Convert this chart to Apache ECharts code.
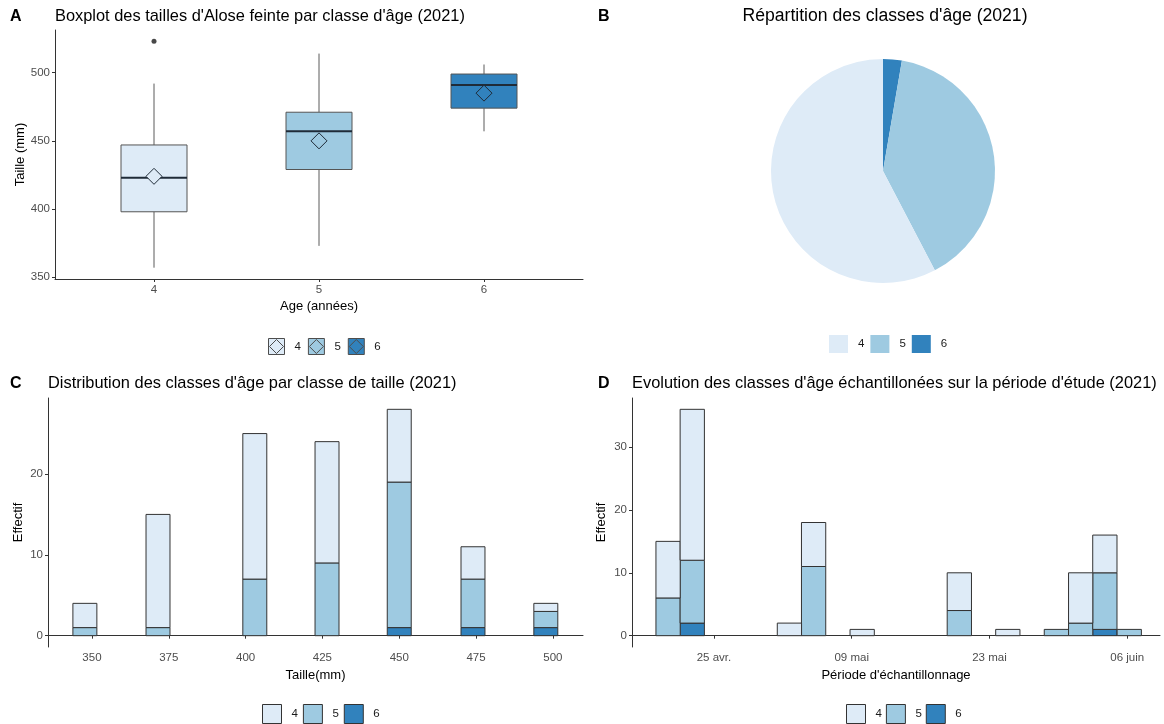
<!DOCTYPE html>
<html>
<head>
<meta charset="utf-8">
<title>Alose feinte 2021</title>
<script src="https://cdn.jsdelivr.net/npm/echarts@6/dist/echarts.min.js"></script>
<style>
  html, body { margin: 0; padding: 0; background: #fff; }
  #chart { width: 1164px; height: 724px; }
</style>
</head>
<body>
<div id="chart"></div>
<script>
// ---- shared ----
const ages = ['4', '5', '6'];
const ageColors = ['#DEEBF7', '#9ECAE1', '#3182BD'];

// ---- A: size per age class (boxplot) ----
const boxPositions = [1, 2, 3];
const boxMin = [357, 373, 457];
const boxQ1 = [398, 429, 474];
const boxMedian = [423, 457, 491];
const boxQ3 = [447, 471, 499];
const boxMax = [492, 514, 506];
const boxMean = [424, 450, 485];
const outlierPos = [1];
const outlierVal = [523];
const tailleTicks = [350, 400, 450, 500];

// ---- B: age class shares ----
const ageTotals = [64, 44, 3];

// ---- C: age classes per size class ----
const sizeClasses = [347.7, 371.5, 403, 426.5, 450, 474, 497.7];
const sizeAge4 = [3, 14, 18, 15, 9, 4, 1];
const sizeAge5 = [1, 1, 7, 9, 18, 6, 2];
const sizeAge6 = [0, 0, 0, 0, 1, 1, 1];
const sizeTicks = [350, 375, 400, 425, 450, 475, 500];
const countTicksC = [0, 10, 20];

// ---- D: age classes over the sampling period (histogram bins) ----
const binCenters = ['2021-04-20 08:00', '2021-04-22 19:00', '2021-05-02 16:00', '2021-05-05 03:00',
  '2021-05-10 01:30', '2021-05-19 22:30', '2021-05-24 20:45', '2021-05-29 19:15',
  '2021-06-01 06:30', '2021-06-03 17:30', '2021-06-06 05:00'];
const binAge4 = [9, 24, 2, 7, 1, 6, 1, 0, 8, 6, 0];
const binAge5 = [6, 10, 0, 11, 0, 4, 0, 1, 2, 9, 1];
const binAge6 = [0, 2, 0, 0, 0, 0, 0, 0, 0, 1, 0];
const dateTicks = ['2021-04-25 00:00', '2021-05-09 00:00', '2021-05-23 00:00', '2021-06-06 00:00'];
const dateTickLabels = ['25 avr.', '09 mai', '23 mai', '06 juin'];
const countTicksD = [0, 10, 20, 30];

// ---- helpers ----
const FONT = 'Liberation Sans, Arial, sans-serif';
const toTime = s => new Date(s.replace(' ', 'T') + ':00').getTime();
const dateTickTimes = dateTicks.map(toTime);

const axisCommon = {
  axisLine: { show: true, lineStyle: { color: '#333', width: 1 } },
  axisTick: { show: true, length: 3, lineStyle: { color: '#333' } },
  axisLabel: { color: '#4d4d4d', fontSize: 11.5, fontFamily: FONT, margin: 5 },
  splitLine: { show: false },
  nameTextStyle: { color: '#000', fontSize: 13, fontFamily: FONT },
  nameLocation: 'middle'
};
function axis(extra) {
  const a = Object.assign({}, axisCommon, extra);
  a.axisLabel = Object.assign({}, axisCommon.axisLabel, extra.axisLabel || {});
  a.axisTick = Object.assign({}, axisCommon.axisTick, extra.axisTick || {});
  return a;
}

// stacked segments [x, bottom, top] for one age class, bottom-up order 6,5,4
function stackRows(xs, layers, k) {
  const rows = [];
  xs.forEach((x, i) => {
    let base = 0;
    for (let j = 0; j < k; j++) base += layers[j][i];
    const v = layers[k][i];
    if (v > 0) rows.push([x, base, base + v]);
  });
  return rows;
}
function segmentRenderer(widthUnits, color) {
  return function (params, api) {
    const x = api.value(0);
    const p0 = api.coord([x, api.value(1)]);
    const p1 = api.coord([x, api.value(2)]);
    const w = api.size([widthUnits, 0])[0];
    return {
      type: 'rect',
      shape: { x: p0[0] - w / 2, y: p1[1], width: w, height: p0[1] - p1[1] },
      style: { fill: color, stroke: '#333', lineWidth: 1 }
    };
  };
}

const sizeBarWidth = 7.8;                 // mm
const binWidth = 59.2 * 3600 * 1000;      // ms

const sizeLayers = [sizeAge6, sizeAge5, sizeAge4];
const binLayers = [binAge6, binAge5, binAge4];
const binTimes = binCenters.map(toTime);

const series = [];

// A: boxes with whiskers
series.push({
  type: 'custom', name: 'boxes', xAxisIndex: 0, yAxisIndex: 0, z: 2,
  data: boxPositions.map((x, i) => [x, boxMin[i], boxQ1[i], boxMedian[i], boxQ3[i], boxMax[i], i]),
  encode: { x: 0, y: [1, 2, 3, 4, 5] },
  renderItem: function (params, api) {
    const x = api.value(0);
    const lo = api.coord([x, api.value(1)]);
    const q1 = api.coord([x, api.value(2)]);
    const md = api.coord([x, api.value(3)]);
    const q3 = api.coord([x, api.value(4)]);
    const hi = api.coord([x, api.value(5)]);
    const half = api.size([0.4, 0])[0] / 2;
    const fill = ageColors[api.value(6)];
    return {
      type: 'group',
      children: [
        { type: 'line', shape: { x1: lo[0], y1: lo[1], x2: q1[0], y2: q1[1] }, style: { stroke: '#5a5a5a', lineWidth: 1 } },
        { type: 'line', shape: { x1: q3[0], y1: q3[1], x2: hi[0], y2: hi[1] }, style: { stroke: '#5a5a5a', lineWidth: 1 } },
        { type: 'rect', shape: { x: q3[0] - half, y: q3[1], width: half * 2, height: q1[1] - q3[1] }, style: { fill: fill, stroke: '#555', lineWidth: 1 } },
        { type: 'line', shape: { x1: md[0] - half, y1: md[1], x2: md[0] + half, y2: md[1] }, style: { stroke: '#1f2b38', lineWidth: 2 } }
      ]
    };
  }
});
// A: outliers
series.push({
  type: 'scatter', name: 'outliers', xAxisIndex: 0, yAxisIndex: 0, z: 3,
  symbol: 'circle', symbolSize: 5,
  itemStyle: { color: '#1a1a1a' },
  data: outlierPos.map((x, i) => [x, outlierVal[i]])
});
// A: means
ages.forEach((a, i) => {
  series.push({
    type: 'scatter', name: 'A-' + a, xAxisIndex: 0, yAxisIndex: 0, z: 4,
    symbol: 'diamond', symbolSize: 16,
    itemStyle: { color: ageColors[i], borderColor: '#1f2b38', borderWidth: 1, opacity: 1 },
    data: [[boxPositions[i], boxMean[i]]]
  });
});

// B: pie
series.push({
  type: 'pie', name: 'shares', center: [883, 171], radius: 112,
  startAngle: 90, clockwise: true,
  label: { show: false }, labelLine: { show: false },
  itemStyle: { borderWidth: 0 },
  data: [2, 1, 0].map(i => ({ name: 'B-' + ages[i], value: ageTotals[i], itemStyle: { color: ageColors[i] } }))
});

// C and D: stacked bars, age 6 at the bottom
[2, 1, 0].forEach((ageIdx, k) => {
  series.push({
    type: 'custom', name: 'C-' + ages[ageIdx], xAxisIndex: 1, yAxisIndex: 1,
    itemStyle: { color: ageColors[ageIdx] },
    data: stackRows(sizeClasses, sizeLayers, k),
    encode: { x: 0, y: [1, 2] },
    renderItem: segmentRenderer(sizeBarWidth, ageColors[ageIdx])
  });
  series.push({
    type: 'custom', name: 'D-' + ages[ageIdx], xAxisIndex: 2, yAxisIndex: 2,
    itemStyle: { color: ageColors[ageIdx] },
    data: stackRows(binTimes, binLayers, k),
    encode: { x: 0, y: [1, 2] },
    renderItem: segmentRenderer(binWidth, ageColors[ageIdx])
  });
});

const keyIcon = 'path://M0,0L16,0L16,16L0,16Z M8,1L15,8L8,15L1,8Z';
const legendText = { color: '#1a1a1a', fontSize: 11.5, fontFamily: FONT, padding: [0, 0, 0, 5] };
const legendName = n => n.split('-')[1];
const titleFont = '16.4px ' + FONT;
const letterFont = 'bold 16px ' + FONT;

const option = {
  animation: false,
  textStyle: { fontFamily: FONT },
  graphic: [
    { type: 'text', x: 10, y: 17, style: { text: 'A', font: letterFont, fill: '#000', textVerticalAlign: 'middle', verticalAlign: 'middle' } },
    { type: 'text', x: 55, y: 16, style: { text: "Boxplot des tailles d'Alose feinte par classe d'âge (2021)", font: titleFont, fill: '#000', textVerticalAlign: 'middle', verticalAlign: 'middle' } },
    { type: 'text', x: 598, y: 17, style: { text: 'B', font: letterFont, fill: '#000', textVerticalAlign: 'middle', verticalAlign: 'middle' } },
    { type: 'text', x: 885, y: 16, style: { text: "Répartition des classes d'âge (2021)", font: '17.6px ' + FONT, fill: '#000', textAlign: 'center', align: 'center', textVerticalAlign: 'middle', verticalAlign: 'middle' } },
    { type: 'text', x: 10, y: 384, style: { text: 'C', font: letterFont, fill: '#000', textVerticalAlign: 'middle', verticalAlign: 'middle' } },
    { type: 'text', x: 48, y: 383, style: { text: "Distribution des classes d'âge par classe de taille (2021)", font: titleFont, fill: '#000', textVerticalAlign: 'middle', verticalAlign: 'middle' } },
    { type: 'text', x: 598, y: 384, style: { text: 'D', font: letterFont, fill: '#000', textVerticalAlign: 'middle', verticalAlign: 'middle' } },
    { type: 'text', x: 632, y: 383, style: { text: "Evolution des classes d'âge échantillonées sur la période d'étude (2021)", font: titleFont, fill: '#000', textVerticalAlign: 'middle', verticalAlign: 'middle' } }
  ],
  grid: [
    { left: 55, top: 30, width: 528, height: 249 },
    { left: 48, top: 398, width: 535, height: 249 },
    { left: 632, top: 398, width: 528, height: 249 }
  ],
  xAxis: [
    axis({
      type: 'value', gridIndex: 0, min: 0.4, max: 3.6,
      name: 'Age (années)', nameGap: 21,
      axisLabel: { customValues: boxPositions, formatter: v => ages[Math.round(v) - 1] },
      axisTick: { customValues: boxPositions }
    }),
    axis({
      type: 'value', gridIndex: 1, min: 335.7, max: 509.8,
      name: 'Taille(mm)', nameGap: 22,
      axisLabel: { customValues: sizeTicks },
      axisTick: { customValues: sizeTicks }
    }),
    axis({
      type: 'value', gridIndex: 2, min: toTime('2021-04-16 16:00'), max: toTime('2021-06-09 08:00'),
      name: "Période d'échantillonnage", nameGap: 22,
      axisLabel: {
        customValues: dateTickTimes,
        formatter: function (v) {
          let best = 0;
          dateTickTimes.forEach((t, i) => { if (Math.abs(t - v) < Math.abs(dateTickTimes[best] - v)) best = i; });
          return dateTickLabels[best];
        }
      },
      axisTick: { customValues: dateTickTimes }
    })
  ],
  yAxis: [
    axis({
      type: 'value', gridIndex: 0, min: 348.7, max: 531.3,
      name: 'Taille (mm)', nameGap: 28,
      axisLabel: { customValues: tailleTicks },
      axisTick: { customValues: tailleTicks }
    }),
    axis({
      type: 'value', gridIndex: 1, min: -1.4, max: 29.4,
      name: 'Effectif', nameGap: 23,
      axisLabel: { customValues: countTicksC },
      axisTick: { customValues: countTicksC }
    }),
    axis({
      type: 'value', gridIndex: 2, min: -1.8, max: 37.8,
      name: 'Effectif', nameGap: 24,
      axisLabel: { customValues: countTicksD },
      axisTick: { customValues: countTicksD }
    })
  ],
  legend: [
    {
      left: 263, top: 333, orient: 'horizontal', itemWidth: 16, itemHeight: 16, itemGap: 7,
      selectedMode: false, formatter: legendName, textStyle: legendText,
      data: ages.map((a, i) => ({ name: 'A-' + a, icon: keyIcon, itemStyle: { color: ageColors[i], borderColor: '#4d4d4d', borderWidth: 1 } }))
    },
    {
      left: 824, top: 330, orient: 'horizontal', itemWidth: 19, itemHeight: 18, itemGap: 6,
      selectedMode: false, formatter: legendName, textStyle: legendText,
      data: ages.map((a, i) => ({ name: 'B-' + a, icon: 'rect', itemStyle: { color: ageColors[i], borderWidth: 0 } }))
    },
    {
      left: 257, top: 699, orient: 'horizontal', itemWidth: 19, itemHeight: 19, itemGap: 5,
      selectedMode: false, formatter: legendName, textStyle: legendText,
      data: ages.map((a, i) => ({ name: 'C-' + a, icon: 'rect', itemStyle: { color: ageColors[i], borderColor: '#333', borderWidth: 1 } }))
    },
    {
      left: 841, top: 699, orient: 'horizontal', itemWidth: 19, itemHeight: 19, itemGap: 4,
      selectedMode: false, formatter: legendName, textStyle: legendText,
      data: ages.map((a, i) => ({ name: 'D-' + a, icon: 'rect', itemStyle: { color: ageColors[i], borderColor: '#333', borderWidth: 1 } }))
    }
  ],
  series: series
};

const chart = echarts.init(document.getElementById('chart'), null, { renderer: 'canvas' });
chart.setOption(option);
</script>
</body>
</html>
